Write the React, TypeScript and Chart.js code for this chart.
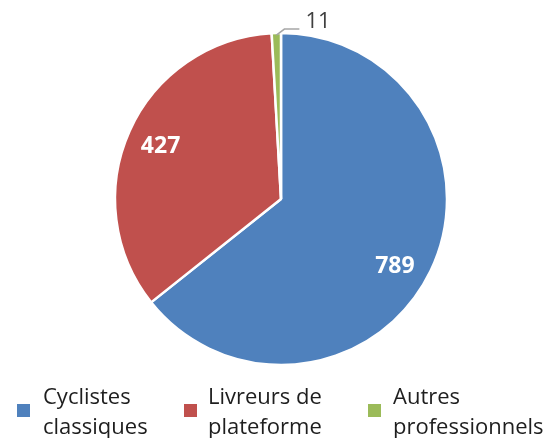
import React, { useEffect, useRef } from "react";
import { Chart, registerables } from "chart.js";

Chart.register(...registerables);

const categories: string[][] = [
  ["Cyclistes", "classiques"],
  ["Livreurs de", "plateforme"],
  ["Autres", "professionnels"],
];
const values: number[] = [789, 427, 11];
const colors: string[] = ["#4F81BD", "#C0504D", "#9BBB59"];
const legendSquareX: number[] = [17, 184, 368];
const legendTextX: number[] = [43, 208, 393];
// small nudges of the in-slice labels (style only)
const labelNudge: number[][] = [[-5, 10], [0, 1], [0, 0]];

const FONT = "'Open Sans', 'DejaVu Sans', sans-serif";

const labelPlugin = {
  id: "sliceLabels",
  afterDatasetsDraw(chart: any) {
    const ctx = chart.ctx;
    const meta = chart.getDatasetMeta(0);
    meta.data.forEach((arc: any, i: number) => {
      const { x, y, startAngle, endAngle, outerRadius } = arc.getProps(
        ["x", "y", "startAngle", "endAngle", "outerRadius"],
        true
      );
      const mid = (startAngle + endAngle) / 2;
      const frac = (endAngle - startAngle) / (2 * Math.PI);
      ctx.save();
      if (frac > 0.05) {
        const r = outerRadius * 0.795;
        ctx.fillStyle = "#ffffff";
        ctx.font = `bold 23px ${FONT}`;
        ctx.textAlign = "center";
        ctx.textBaseline = "middle";
        ctx.fillText(
          String(values[i]),
          x + Math.cos(mid) * r + labelNudge[i][0],
          y + Math.sin(mid) * r + labelNudge[i][1]
        );
      } else {
        const px = x + Math.cos(mid) * (outerRadius - 2);
        const py = y + Math.sin(mid) * (outerRadius - 2);
        const ex = px + 8;
        const ey = py - 6;
        const hx = ex + 15;
        ctx.strokeStyle = "#A6A6A6";
        ctx.lineWidth = 1.5;
        ctx.beginPath();
        ctx.moveTo(px, py);
        ctx.lineTo(ex, ey);
        ctx.lineTo(hx, ey);
        ctx.stroke();
        ctx.fillStyle = "#404040";
        ctx.font = `22px ${FONT}`;
        ctx.textAlign = "left";
        ctx.textBaseline = "middle";
        ctx.fillText(String(values[i]), hx + 6, ey - 7);
      }
      ctx.restore();
    });
  },
  afterDraw(chart: any) {
    const ctx = chart.ctx;
    ctx.save();
    categories.forEach((lines, i) => {
      ctx.fillStyle = colors[i];
      ctx.fillRect(legendSquareX[i], 404, 13, 13);
      ctx.fillStyle = "#1E1E1E";
      ctx.font = `22px ${FONT}`;
      ctx.textAlign = "left";
      ctx.textBaseline = "alphabetic";
      lines.forEach((t, j) => {
        ctx.fillText(t, legendTextX[i], 404 + j * 30);
      });
    });
    ctx.restore();
  },
};

export default function App() {
  const ref = useRef<HTMLCanvasElement | null>(null);
  useEffect(() => {
    document.body.style.margin = "0";
    const canvas = ref.current!;
    const chart = new Chart(canvas, {
      type: "pie",
      data: {
        labels: categories.map((c) => c.join(" ")),
        datasets: [
          {
            data: values,
            backgroundColor: colors,
            borderColor: "#ffffff",
            borderWidth: 2.5,
          },
        ],
      },
      options: {
        responsive: false,
        animation: false,
        radius: 166,
        layout: { padding: { left: 111, right: 98, top: 29, bottom: 69 } },
        plugins: {
          legend: { display: false },
          tooltip: { enabled: false },
        },
      } as any,
      plugins: [labelPlugin],
    });
    return () => chart.destroy();
  }, []);
  return (
    <div style={{ position: "absolute", left: 0, top: 0, width: 549, height: 438, background: "#fff" }}>
      <canvas ref={ref} width={549} height={438} />
    </div>
  );
}
